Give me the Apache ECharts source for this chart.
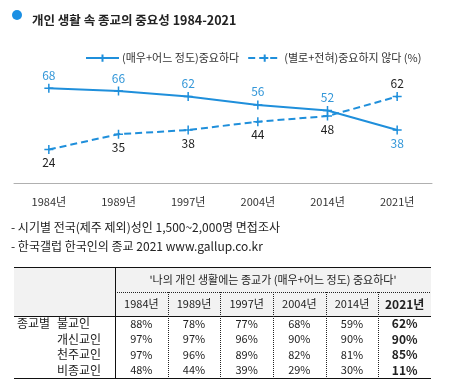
<!DOCTYPE html>
<html><head><meta charset="utf-8">
<script src="https://cdn.jsdelivr.net/npm/echarts@6/dist/echarts.min.js"></script>
<style>html,body{margin:0;padding:0;background:#fff}#c{width:475px;height:390px}</style>
</head><body><div id="c"></div>
<script>
const titleText = '개인 생활 속 종교의 중요성 1984-2021';
const years = ['1984년','1989년','1997년','2004년','2014년','2021년'];
const seriesNames = ['(매우+어느 정도)중요하다', '(별로+전혀)중요하지 않다 (%)'];
const important = [68, 66, 62, 56, 52, 38];
const notImportant = [24, 35, 38, 44, 48, 62];
const notes = ['- 시기별 전국(제주 제외)성인 1,500~2,000명 면접조사', '- 한국갤럽 한국인의 종교 2021 www.gallup.co.kr'];
const tableTitle = "'나의 개인 생활에는 종교가 (매우+어느 정도) 중요하다'";
const groupLabel = '종교별';
const religions = ['불교인', '개신교인', '천주교인', '비종교인'];
const buddhist = [88, 78, 77, 68, 59, 62];
const protestant = [97, 97, 96, 90, 90, 90];
const catholic = [97, 96, 89, 82, 81, 85];
const nonReligious = [48, 44, 39, 29, 30, 11];
const tableRows = [buddhist, protestant, catholic, nonReligious];

const FONT = '"Noto Sans CJK KR", "Noto Sans", sans-serif';
const BLUE = '#1f8fdb';
const LBLUE = '#3497d8';
const chart = echarts.init(document.getElementById('c'), null, {renderer: 'canvas'});

const plus = 'path://M0,5L10,5M5,0L5,10';
const n = years.length;
const impData = important.map((v, i) => ({value: v, label: {position: i === n - 1 ? 'bottom' : 'top'}}));
const notData = notImportant.map((v, i) => ({value: v, label: {position: i === n - 1 ? 'top' : 'bottom'}}));

// table layout
const tL = 14, tR = 431, tC = 115;
const yTop = 267, yH1 = 292, yH2 = 316, yBot = 378;
const colW = (tR - tC) / n;
const rowH = (yBot - yH2) / religions.length;
const g = [];
g.push({type: 'circle', shape: {cx: 17, cy: 15, r: 5}, style: {fill: '#1b8fe3'}});
notes.forEach((t, i) => g.push({type: 'text', x: 11, y: 227.5 + i * 19, style: {text: t, font: '12px ' + FONT, fill: '#222', textVerticalAlign: 'middle'}}));
g.push({type: 'rect', shape: {x: tL, y: yTop, width: tR - tL, height: yH2 - yTop}, style: {fill: '#f2f2f2'}});
[yTop, yH2, yBot].forEach(y => g.push({type: 'line', shape: {x1: tL, y1: y + 0.5, x2: tR, y2: y + 0.5}, style: {stroke: '#111', lineWidth: 1}}));
g.push({type: 'line', shape: {x1: tC, y1: yH1 + 0.5, x2: tR, y2: yH1 + 0.5}, style: {stroke: '#222', lineWidth: 1, lineDash: [1, 1]}});
g.push({type: 'line', shape: {x1: tC + 0.5, y1: yTop, x2: tC + 0.5, y2: yBot}, style: {stroke: '#111', lineWidth: 1}});
for (let j = 1; j < n; j++) {
  const x = Math.round(tC + j * colW) + 0.5;
  g.push({type: 'line', shape: {x1: x, y1: yH1, x2: x, y2: yBot}, style: {stroke: '#222', lineWidth: 1, lineDash: [1, 1]}});
}
g.push({type: 'text', x: (tC + tR) / 2, y: (yTop + yH1) / 2, style: {text: tableTitle, font: '11px ' + FONT, fill: '#222', textAlign: 'center', textVerticalAlign: 'middle'}});
years.forEach((yr, j) => {
  const last = j === n - 1;
  g.push({type: 'text', x: tC + (j + 0.5) * colW, y: (yH1 + yH2) / 2, style: {text: yr, font: (last ? 'bold 12px ' : '11px ') + FONT, fill: '#222', textAlign: 'center', textVerticalAlign: 'middle'}});
});
g.push({type: 'text', x: 17, y: yH2 + rowH / 2, style: {text: groupLabel, font: '12px ' + FONT, fill: '#222', textVerticalAlign: 'middle'}});
religions.forEach((r, i) => {
  const cy = yH2 + (i + 0.5) * rowH;
  g.push({type: 'text', x: 57, y: cy, style: {text: r, font: '12px ' + FONT, fill: '#222', textVerticalAlign: 'middle'}});
  tableRows[i].forEach((v, j) => {
    const last = j === n - 1;
    g.push({type: 'text', x: tC + (j + 0.5) * colW, y: cy, style: {text: v + '%', font: (last ? 'bold 12px ' : '11px ') + FONT, fill: '#222', textAlign: 'center', textVerticalAlign: 'middle'}});
  });
});

chart.setOption({
  animation: false,
  title: {text: titleText, left: 27, top: 7, textStyle: {fontFamily: FONT, fontSize: 12.5, fontWeight: 'bold', color: '#222', lineHeight: 16}},
  legend: {
    left: 80, top: 47, itemWidth: 33, itemHeight: 9, itemGap: 8,
    textStyle: {fontFamily: FONT, fontSize: 11, color: '#333', padding: [0, 0, 0, -2]},
    data: seriesNames
  },
  grid: {left: 14, right: 43, top: 43.6, bottom: 207, containLabel: false},
  xAxis: {
    type: 'category', data: years, boundaryGap: true,
    axisLine: {lineStyle: {color: '#b0b0b0'}},
    axisTick: {length: 4, lineStyle: {color: '#b0b0b0'}},
    axisLabel: {fontFamily: FONT, fontSize: 11, lineHeight: 12, color: '#333', margin: 13}
  },
  yAxis: {type: 'value', min: 0, max: 100, show: false, splitLine: {show: false}},
  series: [
    {
      name: seriesNames[0], type: 'line', data: impData,
      symbol: plus, symbolSize: 9,
      lineStyle: {color: BLUE, width: 2},
      itemStyle: {color: 'none', borderColor: BLUE, borderWidth: 1.5},
      label: {show: true, distance: 0, fontFamily: FONT, fontSize: 12, lineHeight: 12, color: LBLUE}
    },
    {
      name: seriesNames[1], type: 'line', data: notData,
      symbol: plus, symbolSize: 9,
      lineStyle: {color: BLUE, width: 2, type: [7, 4]},
      itemStyle: {color: 'none', borderColor: BLUE, borderWidth: 1.5},
      label: {show: true, distance: 0, fontFamily: FONT, fontSize: 12, lineHeight: 12, color: '#222'}
    }
  ],
  graphic: g
});
</script></body></html>
